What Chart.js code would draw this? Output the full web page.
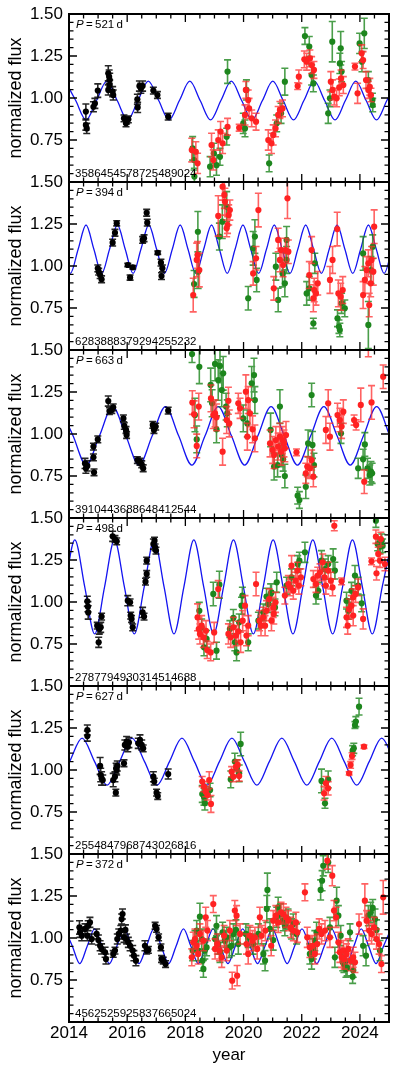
<!DOCTYPE html>
<html>
<head>
<meta charset="utf-8">
<script src="https://cdn.jsdelivr.net/npm/chart.js@4.4.1/dist/chart.umd.min.js"></script>
<style>
  html, body { margin: 0; padding: 0; background: #fff; }
  #wrap { position: relative; width: 396px; height: 1072px; }
</style>
</head>
<body>
<div id="wrap"><canvas id="lc" width="396" height="1072"></canvas></div>
<script>
// -------------------------
// Data
// -------------------------
const xTickYears = [2014, 2016, 2018, 2020, 2022, 2024];
const yTickFlux = [0.75, 1.00, 1.25, 1.50];
const periodDays = ['521', '394', '663', '498', '627', '372'];
const sourceIds = ['3586454578725489024', '6283888379294255232', '3910443688648412544',
                   '2787794930314514688', '2554847968743026816', '4562525925837665024'];

// fitted sinusoid, sampled at its peaks, troughs and mean crossings
const fit1Years = [2013.874,2014.230,2014.587,2014.944,2015.300,2015.657,2016.013,2016.370,2016.726,2017.083,2017.440,2017.796,2018.153,2018.509,2018.866,2019.222,2019.579,2019.936,2020.292,2020.649,2021.005,2021.362,2021.718,2022.075,2022.432,2022.788,2023.145,2023.501,2023.858,2024.214,2024.571,2024.927,2025.284];
const fit1Flux = [1.100,0.985,0.870,0.985,1.100,0.985,0.870,0.985,1.100,0.985,0.870,0.985,1.100,0.985,0.870,0.985,1.100,0.985,0.870,0.985,1.100,0.985,0.870,0.985,1.100,0.985,0.870,0.985,1.100,0.985,0.870,0.985,1.100];

const fit2Years = [2013.776,2014.046,2014.315,2014.585,2014.855,2015.124,2015.394,2015.664,2015.933,2016.203,2016.473,2016.742,2017.012,2017.282,2017.551,2017.821,2018.091,2018.360,2018.630,2018.900,2019.170,2019.439,2019.709,2019.979,2020.248,2020.518,2020.788,2021.057,2021.327,2021.597,2021.866,2022.136,2022.406,2022.675,2022.945,2023.215,2023.484,2023.754,2024.024,2024.293,2024.563,2024.833,2025.102];
const fit2Flux = [1.100,0.956,1.100,1.244,1.100,0.956,1.100,1.244,1.100,0.956,1.100,1.244,1.100,0.956,1.100,1.244,1.100,0.956,1.100,1.244,1.100,0.956,1.100,1.244,1.100,0.956,1.100,1.244,1.100,0.956,1.100,1.244,1.100,0.956,1.100,1.244,1.100,0.956,1.100,1.244,1.100,0.956,1.100];

const fit3Years = [2013.685,2014.139,2014.592,2015.046,2015.500,2015.954,2016.408,2016.861,2017.315,2017.769,2018.223,2018.677,2019.130,2019.584,2020.038,2020.492,2020.946,2021.399,2021.853,2022.307,2022.761,2023.215,2023.668,2024.122,2024.576,2025.030];
const fit3Flux = [1.163,0.989,0.815,0.989,1.163,0.989,0.815,0.989,1.163,0.989,0.815,0.989,1.163,0.989,0.815,0.989,1.163,0.989,0.815,0.989,1.163,0.989,0.815,0.989,1.163,0.989];

const fit4Years = [2013.859,2014.200,2014.541,2014.882,2015.223,2015.564,2015.904,2016.245,2016.586,2016.927,2017.268,2017.609,2017.950,2018.291,2018.631,2018.972,2019.313,2019.654,2019.995,2020.336,2020.677,2021.017,2021.358,2021.699,2022.040,2022.381,2022.722,2023.063,2023.404,2023.744,2024.085,2024.426,2024.767,2025.108];
const fit4Flux = [1.090,1.370,1.090,0.810,1.090,1.370,1.090,0.810,1.090,1.370,1.090,0.810,1.090,1.370,1.090,0.810,1.090,1.370,1.090,0.810,1.090,1.370,1.090,0.810,1.090,1.370,1.090,0.810,1.090,1.370,1.090,0.810,1.090,1.370];

const fit5Years = [2013.592,2014.021,2014.450,2014.879,2015.308,2015.738,2016.167,2016.596,2017.025,2017.454,2017.883,2018.312,2018.742,2019.171,2019.600,2020.029,2020.458,2020.887,2021.316,2021.746,2022.175,2022.604,2023.033,2023.462,2023.891,2024.320,2024.750,2025.179];
const fit5Flux = [0.910,1.050,1.190,1.050,0.910,1.050,1.190,1.050,0.910,1.050,1.190,1.050,0.910,1.050,1.190,1.050,0.910,1.050,1.190,1.050,0.910,1.050,1.190,1.050,0.910,1.050,1.190,1.050];

const fit6Years = [2013.861,2014.116,2014.370,2014.625,2014.880,2015.134,2015.389,2015.643,2015.898,2016.153,2016.407,2016.662,2016.917,2017.171,2017.426,2017.680,2017.935,2018.190,2018.444,2018.699,2018.954,2019.208,2019.463,2019.717,2019.972,2020.227,2020.481,2020.736,2020.991,2021.245,2021.500,2021.754,2022.009,2022.264,2022.518,2022.773,2023.028,2023.282,2023.537,2023.791,2024.046,2024.301,2024.555,2024.810,2025.065];
const fit6Flux = [1.054,0.951,0.848,0.951,1.054,0.951,0.848,0.951,1.054,0.951,0.848,0.951,1.054,0.951,0.848,0.951,1.054,0.951,0.848,0.951,1.054,0.951,0.848,0.951,1.054,0.951,0.848,0.951,1.054,0.951,0.848,0.951,1.054,0.951,0.848,0.951,1.054,0.951,0.848,0.951,1.054,0.951,0.848,0.951,1.054];

// photometry: [year, flux, error]
const black1 = [[2014.58,0.919,0.045],[2014.58,0.839,0.03],[2014.61,0.819,0.03],[2014.84,0.948,0.03],[2014.89,0.968,0.03],[2014.99,1.044,0.04],[2015.35,1.147,0.045],[2015.38,1.127,0.04],[2015.40,1.107,0.04],[2015.35,1.048,0.03],[2015.40,1.077,0.03],[2015.50,1.038,0.03],[2015.52,1.018,0.03],[2015.89,0.879,0.02],[2015.96,0.849,0.02],[2015.98,0.865,0.02],[2016.04,0.873,0.02],[2016.35,0.992,0.03],[2016.36,0.944,0.03],[2016.42,1.071,0.03],[2016.47,1.058,0.03],[2016.53,1.071,0.03],[2016.90,1.044,0.02],[2017.04,1.018,0.02],[2017.41,0.889,0.02]];
const green1 = [[2018.25,0.700,0.07],[2018.30,0.631,0.06],[2018.31,0.532,0.05],[2018.85,0.591,0.06],[2018.98,0.671,0.06],[2019.07,0.600,0.06],[2019.19,0.650,0.05],[2019.42,0.770,0.05],[2019.45,1.157,0.07],[2019.99,0.849,0.06],[2020.05,0.819,0.05],[2020.10,1.048,0.06],[2020.88,0.611,0.05],[2021.14,0.849,0.05],[2021.29,0.909,0.06],[2021.42,1.097,0.08],[2022.11,1.369,0.05],[2022.26,1.306,0.06],[2022.34,1.137,0.06],[2022.40,1.087,0.05],[2022.91,0.909,0.06],[2022.97,0.998,0.05],[2023.05,1.335,0.12],[2023.31,1.206,0.06],[2023.34,1.296,0.10],[2023.37,1.157,0.06],[2023.99,1.325,0.06],[2024.07,1.216,0.06],[2024.15,1.385,0.09],[2024.29,1.107,0.05],[2024.44,0.958,0.04],[2024.43,0.988,0.04]];
const red1 = [[2018.22,0.690,0.07],[2018.36,0.680,0.06],[2018.42,0.611,0.06],[2018.90,0.720,0.07],[2018.96,0.631,0.06],[2019.13,0.750,0.06],[2019.21,0.800,0.06],[2019.28,0.730,0.06],[2019.45,0.829,0.05],[2019.85,0.823,0.02],[2020.08,1.048,0.05],[2020.05,0.899,0.06],[2020.16,0.988,0.06],[2020.19,0.938,0.06],[2020.28,0.879,0.05],[2020.43,0.859,0.05],[2020.85,0.750,0.06],[2020.96,0.730,0.06],[2021.02,0.780,0.06],[2021.10,0.819,0.05],[2021.19,0.899,0.05],[2021.25,0.929,0.05],[2021.34,0.938,0.05],[2021.86,1.071,0.02],[2021.90,1.127,0.04],[2022.09,1.230,0.05],[2022.17,1.216,0.05],[2022.28,1.236,0.05],[2022.34,1.196,0.05],[2022.42,1.167,0.05],[2023.00,1.097,0.06],[2023.06,1.048,0.06],[2023.12,1.008,0.05],[2023.20,0.998,0.05],[2023.29,1.063,0.05],[2023.35,1.117,0.05],[2023.43,1.077,0.05],[2023.83,1.187,0.02],[2023.92,1.028,0.06],[2024.06,1.266,0.05],[2024.11,1.226,0.05],[2024.21,1.107,0.05],[2024.29,1.048,0.05],[2024.34,1.067,0.05],[2024.38,1.018,0.04]];

const black2 = [[2014.99,0.986,0.02],[2015.02,0.966,0.02],[2015.07,0.946,0.02],[2015.12,0.921,0.02],[2015.50,1.139,0.02],[2015.58,1.198,0.02],[2015.64,1.254,0.015],[2016.02,1.006,0.01],[2016.10,0.931,0.015],[2016.19,0.992,0.01],[2016.53,1.155,0.02],[2016.58,1.165,0.02],[2016.67,1.317,0.02],[2016.69,1.258,0.02],[2017.05,1.079,0.01],[2017.16,1.020,0.02],[2017.21,0.986,0.02],[2017.18,0.940,0.02]];
const green2 = [[2018.30,0.893,0.08],[2018.43,1.204,0.12],[2018.44,0.966,0.10],[2019.17,1.175,0.08],[2019.27,1.264,0.10],[2019.42,1.353,0.09],[2020.16,0.808,0.07],[2020.33,1.105,0.10],[2020.39,1.175,0.10],[2020.45,0.917,0.07],[2021.11,0.996,0.08],[2021.19,0.798,0.07],[2021.34,0.956,0.08],[2021.42,0.897,0.08],[2021.48,1.036,0.08],[2021.48,1.155,0.08],[2022.17,0.837,0.07],[2022.26,0.867,0.07],[2022.40,0.659,0.03],[2022.45,1.016,0.06],[2023.23,0.689,0.05],[2023.28,0.639,0.04],[2023.31,0.619,0.04],[2023.37,0.778,0.06],[2023.48,0.748,0.05],[2024.11,1.075,0.10],[2024.29,0.649,0.14],[2024.38,0.976,0.08],[2024.44,1.115,0.07]];
const red2 = [[2018.27,0.827,0.10],[2018.39,1.036,0.10],[2018.42,1.066,0.08],[2018.48,0.976,0.10],[2019.13,1.298,0.12],[2019.28,1.472,0.08],[2019.34,1.423,0.08],[2019.36,1.383,0.08],[2019.42,1.224,0.05],[2019.45,1.244,0.05],[2019.49,1.304,0.06],[2019.53,1.333,0.06],[2020.33,0.956,0.07],[2020.43,1.046,0.07],[2020.51,1.333,0.10],[2021.04,0.867,0.07],[2021.19,1.155,0.07],[2021.25,1.036,0.07],[2021.29,1.095,0.07],[2021.36,1.006,0.07],[2021.44,1.095,0.07],[2021.51,1.403,0.12],[2021.54,1.085,0.07],[2022.26,0.946,0.08],[2022.34,1.095,0.08],[2022.40,0.808,0.08],[2022.43,0.857,0.07],[2022.49,0.837,0.07],[2022.55,0.897,0.07],[2022.97,0.917,0.08],[2023.06,1.036,0.08],[2023.22,1.220,0.10],[2023.26,0.837,0.08],[2023.34,0.817,0.08],[2023.41,0.857,0.08],[2024.11,0.827,0.08],[2024.17,0.917,0.08],[2024.23,0.976,0.08],[2024.29,1.016,0.08],[2024.32,0.768,0.07],[2024.37,0.897,0.08],[2024.40,1.036,0.08],[2024.46,0.966,0.08],[2024.49,1.234,0.10]];

const black3 = [[2014.55,0.825,0.03],[2014.58,0.796,0.03],[2014.63,0.810,0.03],[2014.84,0.861,0.02],[2014.84,0.925,0.02],[2014.86,0.772,0.02],[2014.99,0.968,0.02],[2015.35,1.196,0.03],[2015.39,1.137,0.02],[2015.47,1.143,0.02],[2015.52,1.159,0.02],[2015.87,1.093,0.02],[2015.90,1.048,0.02],[2015.96,1.024,0.02],[2015.98,0.994,0.02],[2016.35,0.845,0.02],[2016.44,0.835,0.02],[2016.50,0.820,0.02],[2016.55,0.796,0.02],[2016.88,1.054,0.02],[2016.92,1.024,0.02],[2016.98,1.044,0.02],[2017.41,1.139,0.02]];
const green3 = [[2018.23,1.476,0.05],[2018.33,1.113,0.10],[2018.39,0.968,0.08],[2018.48,1.400,0.10],[2018.87,1.292,0.10],[2018.92,1.183,0.08],[2019.02,1.417,0.10],[2019.07,1.028,0.08],[2019.13,1.321,0.12],[2019.19,1.405,0.10],[2019.25,1.262,0.10],[2019.30,1.361,0.10],[2019.40,1.163,0.08],[2019.44,1.123,0.08],[2019.99,1.093,0.08],[2020.13,1.063,0.08],[2020.28,1.302,0.10],[2020.36,1.351,0.10],[2020.39,1.202,0.08],[2020.93,1.024,0.10],[2021.05,0.806,0.08],[2021.17,0.815,0.07],[2021.25,1.163,0.10],[2021.31,0.875,0.07],[2021.36,0.849,0.07],[2021.42,0.750,0.07],[2021.86,0.633,0.05],[2021.92,0.607,0.05],[2022.14,0.686,0.07],[2022.22,0.944,0.08],[2022.34,1.232,0.07],[2022.37,0.935,0.08],[2022.42,0.815,0.07],[2023.35,1.004,0.06],[2023.94,0.796,0.06],[2024.11,0.849,0.06],[2024.17,0.938,0.07],[2024.26,0.796,0.06],[2024.34,0.756,0.06],[2024.38,0.776,0.06],[2024.42,0.766,0.06]];
const red3 = [[2018.24,1.187,0.07],[2018.30,1.117,0.08],[2018.39,0.929,0.07],[2018.46,1.163,0.08],[2018.88,1.212,0.08],[2018.96,1.113,0.08],[2019.02,1.123,0.08],[2019.07,1.099,0.08],[2019.28,0.895,0.08],[2019.42,1.083,0.08],[2019.48,1.198,0.08],[2019.51,1.063,0.08],[2019.82,1.183,0.06],[2019.88,1.153,0.06],[2020.08,1.252,0.10],[2020.13,0.984,0.08],[2020.16,1.202,0.08],[2020.22,1.123,0.08],[2020.31,1.028,0.08],[2020.39,0.974,0.08],[2020.91,0.944,0.08],[2021.00,0.905,0.08],[2021.05,0.875,0.08],[2021.11,0.964,0.08],[2021.19,0.925,0.08],[2021.25,0.984,0.08],[2021.29,0.895,0.08],[2021.34,0.964,0.08],[2021.39,0.944,0.08],[2021.42,0.915,0.08],[2021.46,0.994,0.08],[2021.82,0.891,0.02],[2022.14,0.766,0.06],[2022.19,0.806,0.06],[2022.28,0.796,0.06],[2022.34,0.845,0.06],[2022.40,0.746,0.06],[2022.83,1.024,0.08],[2022.91,1.183,0.08],[2022.97,0.984,0.08],[2023.23,1.113,0.07],[2023.31,1.083,0.07],[2023.37,1.044,0.07],[2023.43,1.133,0.07],[2023.80,1.083,0.03],[2023.87,1.054,0.03],[2024.03,1.173,0.10],[2024.15,0.716,0.07],[2024.40,1.188,0.10],[2024.80,1.341,0.07],[2024.29,1.520,0.06]];

const black4 = [[2014.63,1.004,0.03],[2014.65,0.972,0.03],[2014.66,0.938,0.04],[2014.97,0.859,0.02],[2015.02,0.760,0.03],[2015.04,0.839,0.03],[2015.09,0.849,0.03],[2015.12,0.913,0.02],[2015.50,1.391,0.03],[2015.58,1.375,0.02],[2015.64,1.361,0.02],[2016.02,1.008,0.03],[2016.10,0.998,0.02],[2016.12,0.919,0.02],[2016.15,0.899,0.02],[2016.19,0.849,0.02],[2016.53,0.938,0.03],[2016.58,0.913,0.02],[2016.63,1.121,0.02],[2016.67,1.167,0.02],[2016.67,1.246,0.02],[2016.90,1.345,0.03],[2016.94,1.365,0.02],[2016.99,1.306,0.02],[2016.96,1.325,0.02]];
const green4 = [[2018.48,0.948,0.05],[2018.56,0.849,0.05],[2018.64,0.730,0.05],[2018.73,0.780,0.05],[2018.96,1.048,0.07],[2019.07,0.710,0.05],[2019.17,1.103,0.08],[2019.53,0.839,0.05],[2019.65,0.905,0.05],[2019.70,0.760,0.05],[2019.76,0.700,0.05],[2019.85,0.879,0.05],[2019.93,0.978,0.05],[2019.96,1.038,0.05],[2020.16,0.760,0.05],[2020.51,0.889,0.05],[2020.68,0.938,0.05],[2020.79,1.032,0.05],[2020.85,0.988,0.05],[2020.93,1.048,0.06],[2020.96,1.058,0.05],[2021.08,0.968,0.05],[2021.14,1.117,0.06],[2021.48,1.097,0.05],[2021.65,1.147,0.05],[2021.86,1.226,0.05],[2021.92,1.246,0.05],[2022.11,1.296,0.06],[2022.49,1.038,0.05],[2022.57,1.067,0.05],[2022.68,1.246,0.06],[2022.80,1.196,0.06],[2022.91,1.226,0.05],[2023.08,1.256,0.06],[2023.14,1.187,0.05],[2023.54,1.008,0.05],[2023.60,0.948,0.05],[2023.71,1.067,0.05],[2023.83,1.157,0.06],[2023.94,1.097,0.05],[2024.06,0.992,0.05],[2024.55,1.484,0.04],[2024.61,1.345,0.04],[2024.69,1.329,0.04],[2024.78,1.335,0.04],[2024.75,1.365,0.04]];
const red4 = [[2018.42,0.909,0.08],[2018.46,0.839,0.06],[2018.50,0.810,0.06],[2018.56,0.859,0.06],[2018.62,0.790,0.06],[2018.71,0.829,0.06],[2018.75,0.714,0.05],[2018.87,0.700,0.05],[2018.99,0.819,0.06],[2019.13,1.077,0.05],[2019.48,0.810,0.06],[2019.56,0.790,0.06],[2019.65,0.849,0.06],[2019.74,0.800,0.06],[2019.82,0.825,0.06],[2019.90,0.760,0.06],[2019.97,0.889,0.06],[2020.05,0.978,0.06],[2020.10,0.800,0.06],[2020.16,0.859,0.06],[2020.43,1.107,0.07],[2020.55,0.889,0.06],[2020.60,0.859,0.06],[2020.68,0.909,0.06],[2020.74,0.859,0.06],[2020.79,0.948,0.06],[2020.88,1.018,0.06],[2020.96,0.889,0.06],[2021.02,0.968,0.06],[2021.04,0.929,0.06],[2021.10,0.998,0.06],[2021.42,1.038,0.05],[2021.54,1.107,0.05],[2021.60,1.087,0.05],[2021.65,1.216,0.06],[2021.71,1.067,0.05],[2021.79,1.127,0.05],[2021.85,1.187,0.05],[2021.90,1.097,0.05],[2021.97,1.147,0.05],[2022.40,1.137,0.05],[2022.49,1.107,0.05],[2022.55,1.157,0.05],[2022.63,1.177,0.05],[2022.72,1.236,0.05],[2022.78,1.147,0.05],[2022.83,1.097,0.05],[2022.91,1.187,0.05],[2023.00,1.127,0.05],[2023.06,1.087,0.05],[2023.12,1.454,0.03],[2023.37,1.123,0.02],[2023.54,0.909,0.06],[2023.58,0.859,0.05],[2023.63,0.958,0.06],[2023.71,0.978,0.06],[2023.77,0.919,0.06],[2023.77,1.028,0.05],[2023.85,1.048,0.05],[2023.94,1.087,0.05],[2024.11,0.899,0.06],[2024.40,1.242,0.02],[2024.55,1.389,0.04],[2024.57,1.171,0.04],[2024.63,1.286,0.04],[2024.69,1.246,0.04],[2024.72,1.375,0.04],[2024.86,1.226,0.04]];

const black5 = [[2014.63,1.238,0.03],[2014.63,1.202,0.03],[2015.07,1.024,0.05],[2015.09,0.970,0.04],[2015.12,0.950,0.04],[2015.16,0.940,0.03],[2015.52,0.940,0.04],[2015.58,0.960,0.03],[2015.61,0.865,0.02],[2015.62,1.010,0.03],[2015.64,1.000,0.03],[2015.66,1.024,0.03],[2015.89,1.040,0.02],[2015.92,1.149,0.03],[2015.98,1.169,0.03],[2016.02,1.139,0.03],[2016.06,1.163,0.03],[2016.38,1.159,0.03],[2016.44,1.179,0.03],[2016.50,1.149,0.03],[2016.55,1.129,0.02],[2016.90,0.960,0.03],[2016.93,0.931,0.02],[2017.01,0.865,0.02],[2017.05,0.845,0.02],[2017.41,0.976,0.03]];
const green5 = [[2018.58,0.857,0.05],[2018.64,0.841,0.05],[2018.67,0.802,0.04],[2018.73,0.851,0.05],[2018.85,0.881,0.04],[2019.56,0.944,0.05],[2019.70,1.050,0.05],[2019.76,1.010,0.05],[2019.85,0.980,0.05],[2019.90,1.155,0.07],[2022.68,0.935,0.07],[2022.80,0.802,0.03],[2022.91,0.944,0.05],[2023.75,1.115,0.03],[2023.79,1.129,0.03],[2023.83,1.268,0.02],[2023.86,1.288,0.03],[2023.97,1.377,0.05]];
const red5 = [[2018.58,0.931,0.03],[2018.64,0.901,0.03],[2018.70,0.871,0.03],[2018.76,0.851,0.03],[2018.82,0.940,0.05],[2018.88,0.798,0.05],[2019.59,0.990,0.03],[2019.65,0.960,0.03],[2019.74,1.020,0.03],[2019.80,1.030,0.03],[2019.85,0.964,0.03],[2022.77,0.861,0.04],[2022.83,0.921,0.04],[2022.91,0.891,0.04],[2023.63,0.980,0.01],[2023.68,1.030,0.02],[2023.73,1.083,0.02],[2024.14,1.139,0.01],[2024.06,1.526,0.02]];

const black6 = [[2014.36,1.063,0.04],[2014.38,1.034,0.03],[2014.44,1.014,0.03],[2014.55,1.054,0.03],[2014.63,1.014,0.03],[2014.66,1.073,0.03],[2014.72,1.093,0.03],[2014.78,0.994,0.03],[2014.95,1.024,0.03],[2015.01,0.988,0.03],[2015.07,0.954,0.03],[2015.12,0.935,0.03],[2015.24,0.915,0.03],[2015.27,0.875,0.03],[2015.52,0.905,0.02],[2015.58,0.925,0.02],[2015.66,0.994,0.03],[2015.71,1.024,0.03],[2015.78,1.044,0.03],[2015.81,1.113,0.03],[2015.84,1.143,0.03],[2015.89,1.004,0.03],[2015.94,1.048,0.03],[2015.98,0.994,0.03],[2016.04,0.974,0.03],[2016.10,0.954,0.03],[2016.19,0.925,0.03],[2016.23,0.895,0.03],[2016.30,0.865,0.03],[2016.61,0.954,0.03],[2016.67,0.925,0.02],[2016.73,0.929,0.02],[2016.96,1.073,0.02],[2017.01,1.054,0.02],[2017.08,1.004,0.02],[2017.16,0.944,0.02],[2017.18,0.875,0.02],[2017.24,0.865,0.02],[2017.32,0.845,0.02]];
const green6 = [[2018.25,0.925,0.06],[2018.33,0.984,0.06],[2018.39,1.044,0.06],[2018.44,0.925,0.06],[2018.50,1.127,0.08],[2018.56,0.994,0.06],[2018.59,0.865,0.06],[2018.62,0.816,0.05],[2018.67,0.925,0.05],[2018.73,0.944,0.05],[2019.02,0.994,0.06],[2019.07,1.073,0.06],[2019.13,0.964,0.06],[2019.19,0.915,0.06],[2019.28,1.034,0.06],[2019.36,0.984,0.06],[2019.42,1.004,0.06],[2019.51,0.944,0.06],[2019.59,0.954,0.06],[2019.65,1.024,0.06],[2019.74,1.048,0.06],[2019.82,0.964,0.06],[2020.08,1.024,0.06],[2020.16,1.004,0.06],[2020.33,0.964,0.06],[2020.51,1.024,0.06],[2020.68,0.905,0.06],[2020.74,0.865,0.06],[2020.82,1.286,0.10],[2020.80,1.173,0.08],[2020.91,1.054,0.06],[2021.02,0.988,0.06],[2021.14,1.123,0.06],[2021.19,1.183,0.06],[2021.27,1.143,0.06],[2021.36,1.103,0.06],[2021.42,1.073,0.06],[2021.53,1.113,0.06],[2021.65,1.054,0.06],[2021.71,1.083,0.06],[2021.82,1.024,0.06],[2022.28,0.905,0.06],[2022.34,0.875,0.06],[2022.40,0.935,0.06],[2022.45,0.984,0.06],[2022.51,1.034,0.06],[2022.65,1.286,0.06],[2022.70,1.341,0.06],[2022.74,1.430,0.06],[2022.91,1.450,0.06],[2022.97,1.063,0.06],[2023.14,0.885,0.06],[2023.20,1.222,0.08],[2023.26,1.133,0.06],[2023.34,1.014,0.06],[2023.41,0.855,0.05],[2023.45,0.845,0.05],[2023.52,0.816,0.05],[2023.56,0.825,0.05],[2023.66,1.034,0.05],[2023.75,0.770,0.04],[2023.77,0.806,0.04],[2024.11,0.954,0.06],[2024.21,0.895,0.06],[2024.29,1.133,0.06],[2024.37,1.153,0.06],[2024.44,1.179,0.05],[2024.52,1.113,0.06],[2024.57,1.048,0.06],[2024.69,0.925,0.06]];
const red6 = [[2018.22,0.885,0.05],[2018.27,0.974,0.06],[2018.33,0.994,0.06],[2018.39,0.954,0.06],[2018.44,0.905,0.06],[2018.50,1.024,0.06],[2018.62,0.984,0.06],[2018.70,1.123,0.06],[2018.76,1.044,0.06],[2018.96,1.202,0.05],[2019.02,0.935,0.06],[2019.10,0.964,0.06],[2019.17,0.925,0.06],[2019.25,0.885,0.06],[2019.33,1.014,0.06],[2019.42,0.925,0.06],[2019.53,1.044,0.06],[2019.61,0.746,0.05],[2019.70,1.163,0.06],[2019.76,1.133,0.06],[2019.78,0.776,0.06],[2019.88,1.024,0.06],[2020.10,0.964,0.06],[2020.16,0.905,0.06],[2020.22,1.014,0.06],[2020.31,0.984,0.06],[2020.39,1.004,0.06],[2020.47,0.935,0.06],[2020.56,1.123,0.06],[2020.62,1.014,0.06],[2020.75,1.044,0.06],[2020.95,0.954,0.06],[2021.02,1.103,0.06],[2021.11,1.133,0.06],[2021.19,1.093,0.06],[2021.29,1.153,0.06],[2021.37,1.143,0.06],[2021.46,1.123,0.06],[2021.54,1.103,0.06],[2021.62,1.063,0.06],[2021.71,1.044,0.06],[2021.80,1.093,0.06],[2021.85,1.034,0.06],[2022.11,1.272,0.05],[2022.19,1.004,0.06],[2022.28,0.944,0.06],[2022.37,0.954,0.06],[2022.45,0.905,0.06],[2022.53,0.964,0.06],[2022.60,1.054,0.06],[2022.68,1.024,0.06],[2022.80,1.044,0.06],[2022.88,1.460,0.05],[2022.97,1.004,0.06],[2023.05,1.371,0.06],[2023.11,1.163,0.06],[2023.18,1.123,0.06],[2023.26,0.974,0.06],[2023.31,0.915,0.06],[2023.37,0.885,0.06],[2023.43,0.925,0.06],[2023.46,0.875,0.06],[2023.54,0.905,0.06],[2023.60,0.935,0.06],[2023.68,0.865,0.06],[2023.77,0.885,0.06],[2023.83,0.855,0.06],[2023.97,1.083,0.06],[2024.17,1.222,0.10],[2024.23,1.103,0.06],[2024.32,1.044,0.06],[2024.40,1.024,0.06],[2024.49,1.063,0.06],[2024.57,0.994,0.06],[2024.66,0.964,0.06],[2024.74,0.845,0.05],[2024.80,1.242,0.10]];

const panels = [
  { fitYears: fit1Years, fitFlux: fit1Flux, black: black1, green: green1, red: red1 },
  { fitYears: fit2Years, fitFlux: fit2Flux, black: black2, green: green2, red: red2 },
  { fitYears: fit3Years, fitFlux: fit3Flux, black: black3, green: green3, red: red3 },
  { fitYears: fit4Years, fitFlux: fit4Flux, black: black4, green: green4, red: red4 },
  { fitYears: fit5Years, fitFlux: fit5Flux, black: black5, green: green5, red: red5 },
  { fitYears: fit6Years, fitFlux: fit6Flux, black: black6, green: green6, red: red6 }
];

// -------------------------
// Styling
// -------------------------
const FONT = '"Liberation Sans", Arial, Helvetica, sans-serif';
const COLORS = {
  fit: '#1414f0',
  black: { point: '#000000', bar: 'rgba(0,0,0,0.85)' },
  green: { point: '#1d861d', bar: 'rgba(29,134,29,0.8)' },
  red: { point: '#ff2222', bar: 'rgba(255,45,45,0.75)' }
};

// -------------------------
// Plugin: per-panel clip, error bars, frames, ticks, labels
// -------------------------
const panelPlugin = {
  id: 'panelPlugin',
  beforeDatasetDraw(chart, args) {
    const ds = chart.data.datasets[args.index];
    const ys = chart.scales[ds.yAxisID];
    const xs = chart.scales.x;
    const { ctx, chartArea } = chart;
    ctx.save();
    ctx.beginPath();
    ctx.rect(chartArea.left, ys.top, chartArea.right - chartArea.left, ys.bottom - ys.top);
    ctx.clip();
    if (ds.errs) {
      ctx.strokeStyle = ds.barColor;
      ctx.lineWidth = 1.6;
      ctx.beginPath();
      ds.data.forEach((pt, k) => {
        const px = xs.getPixelForValue(pt.x);
        const lo = ys.getPixelForValue(pt.y - ds.errs[k]);
        const hi = ys.getPixelForValue(pt.y + ds.errs[k]);
        ctx.moveTo(px, lo); ctx.lineTo(px, hi);
        ctx.moveTo(px - 3.5, lo); ctx.lineTo(px + 3.5, lo);
        ctx.moveTo(px - 3.5, hi); ctx.lineTo(px + 3.5, hi);
      });
      ctx.stroke();
    }
  },
  afterDatasetDraw(chart) {
    chart.ctx.restore();
  },
  afterDraw(chart) {
    const { ctx, chartArea: ca } = chart;
    const xs = chart.scales.x;
    ctx.save();
    ctx.strokeStyle = '#000';
    ctx.fillStyle = '#000';
    panels.forEach((p, i) => {
      const ys = chart.scales['y' + i];
      const top = ys.top, bot = ys.bottom;

      // inward ticks on all four sides
      ctx.lineWidth = 1.3;
      ctx.beginPath();
      for (let yr = 2014; yr <= 2025; yr += 0.5) {
        const px = xs.getPixelForValue(yr);
        const len = (yr % 2 === 0) ? 8 : 4.5;
        ctx.moveTo(px, top); ctx.lineTo(px, top + len);
        ctx.moveTo(px, bot); ctx.lineTo(px, bot - len);
      }
      for (let k = 0; k <= 20; k++) {
        const py = ys.getPixelForValue(0.5 + k * 0.05);
        const len = (k % 5 === 0) ? 8 : 4.5;
        ctx.moveTo(ca.left, py); ctx.lineTo(ca.left + len, py);
        ctx.moveTo(ca.right, py); ctx.lineTo(ca.right - len, py);
      }
      ctx.stroke();

      ctx.lineWidth = 2;
      ctx.strokeRect(ca.left, top, ca.right - ca.left, bot - top);

      // period label
      ctx.textBaseline = 'middle';
      ctx.textAlign = 'left';
      ctx.font = 'italic 11.5px ' + FONT;
      ctx.fillText('P', ca.left + 7, top + 10.5);
      const w = ctx.measureText('P').width;
      ctx.font = '11.5px ' + FONT;
      ctx.fillText('\u2009=\u2009' + periodDays[i] + '\u2009d', ca.left + 7 + w, top + 10.5);

      // source id
      ctx.font = '11.5px ' + FONT;
      ctx.fillText(sourceIds[i], ca.left + 6, bot - 8);
    });
    ctx.restore();
  }
};

// -------------------------
// Chart build
// -------------------------
const toPoints = rows => rows.map(r => ({ x: r[0], y: r[1] }));

const scales = {
  x: {
    type: 'linear', position: 'bottom', min: 2014, max: 2025,
    afterBuildTicks: s => { s.ticks = xTickYears.map(v => ({ value: v })); },
    afterFit: s => { s.height = 50; s.paddingLeft = 0; s.paddingRight = 0; },
    grid: { display: false, drawTicks: false },
    border: { display: false },
    ticks: { color: '#000', font: { family: FONT, size: 17 }, padding: 1, maxRotation: 0, autoSkip: false, callback: v => String(v) },
    title: { display: true, text: 'year', color: '#000', font: { family: FONT, size: 17 }, padding: { top: 0, bottom: 6 } }
  }
};

const datasets = [];
panels.forEach((p, i) => {
  const yid = 'y' + i;
  scales[yid] = {
    type: 'linear', position: 'left', stack: 'panels', stackWeight: 1, weight: panels.length - i,
    min: 0.5, max: 1.5, offset: false,
    afterBuildTicks: s => { s.ticks = yTickFlux.map(v => ({ value: v })); },
    afterFit: s => { s.width = 69; s.paddingTop = 0; s.paddingBottom = 0; },
    grid: { display: false, drawTicks: false },
    border: { display: false },
    ticks: { color: '#000', font: { family: FONT, size: 17 }, padding: 6, autoSkip: false, callback: v => v.toFixed(2) },
    title: { display: true, text: 'normalized flux', color: '#000', font: { family: FONT, size: 18 }, padding: { top: 5, bottom: 0 } }
  };

  datasets.push({
    label: 'black' + i, data: toPoints(p.black), errs: p.black.map(r => r[2]), barColor: COLORS.black.bar,
    yAxisID: yid, xAxisID: 'x', order: 1,
    pointRadius: 3.1, pointHoverRadius: 3.1, pointBorderWidth: 0,
    backgroundColor: COLORS.black.point, borderColor: COLORS.black.point
  });
  datasets.push({
    label: 'red' + i, data: toPoints(p.red), errs: p.red.map(r => r[2]), barColor: COLORS.red.bar,
    yAxisID: yid, xAxisID: 'x', order: 2,
    pointRadius: 3.1, pointHoverRadius: 3.1, pointBorderWidth: 0,
    backgroundColor: COLORS.red.point, borderColor: COLORS.red.point
  });
  datasets.push({
    label: 'green' + i, data: toPoints(p.green), errs: p.green.map(r => r[2]), barColor: COLORS.green.bar,
    yAxisID: yid, xAxisID: 'x', order: 3,
    pointRadius: 3.1, pointHoverRadius: 3.1, pointBorderWidth: 0,
    backgroundColor: COLORS.green.point, borderColor: COLORS.green.point
  });
  datasets.push({
    label: 'fit' + i, data: p.fitYears.map((x, k) => ({ x, y: p.fitFlux[k] })),
    yAxisID: yid, xAxisID: 'x', order: 4,
    showLine: true, pointRadius: 0, pointHoverRadius: 0, fill: false,
    borderColor: COLORS.fit, borderWidth: 1.3, cubicInterpolationMode: 'monotone'
  });
});

new Chart(document.getElementById('lc'), {
  type: 'scatter',
  data: { datasets },
  options: {
    responsive: false,
    animation: false,
    events: [],
    layout: { padding: { left: 0, right: 7, top: 14, bottom: 0 } },
    plugins: { legend: { display: false }, tooltip: { enabled: false } },
    scales
  },
  plugins: [panelPlugin]
});
</script>
</body>
</html>
